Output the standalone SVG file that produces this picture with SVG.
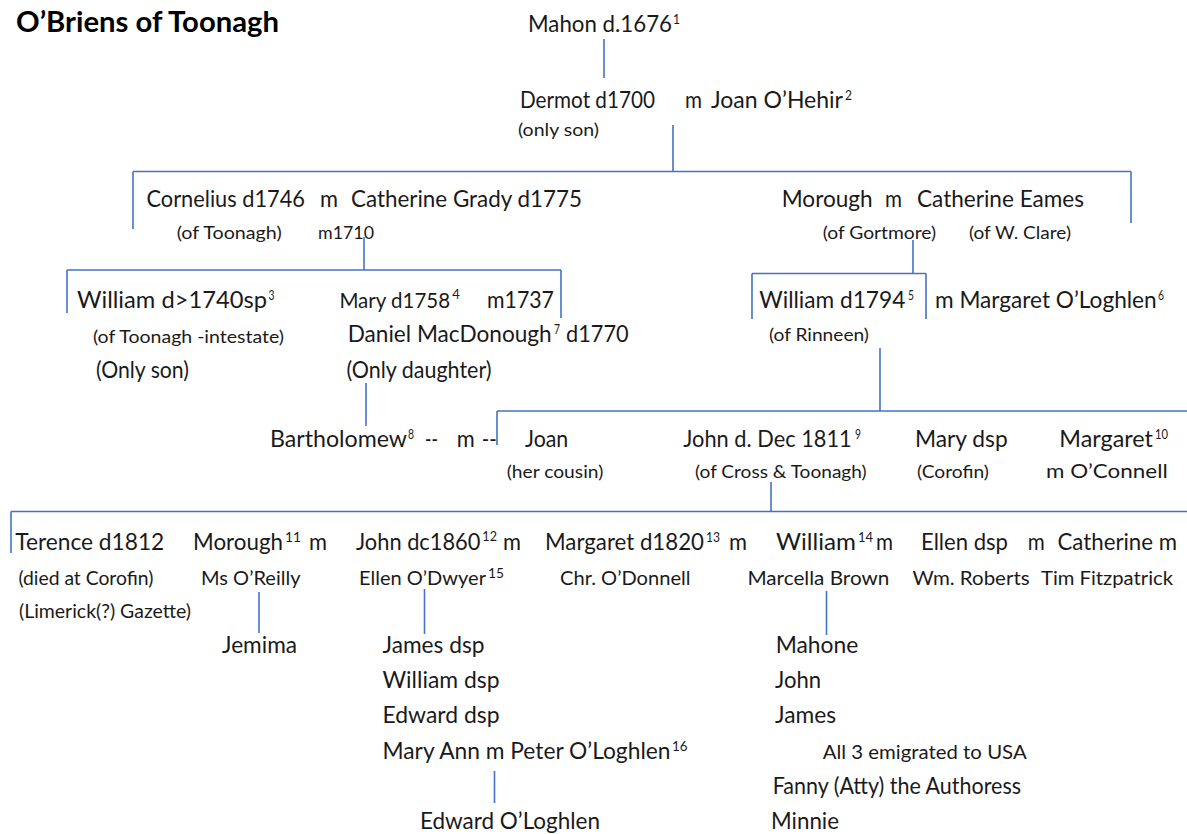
<svg xmlns="http://www.w3.org/2000/svg" width="1187" height="834" viewBox="0 0 1187 834">
<style>
text{font-family:Lato,"Open Sans","Liberation Sans",sans-serif;fill:#1a1a1a}
.t{font-size:28px;font-weight:bold;fill:#000}
.n{font-size:22.5px}
.s{font-size:16.5px}
.m{font-size:18.5px}
.e{font-size:19.5px}
.p{font-size:13px}
#connectors line{stroke:#4472C4;stroke-width:1.6;fill:none}
</style>
<rect width="1187" height="834" fill="#fff"/>
<g id="connectors">
<line x1="604" y1="39" x2="604" y2="78"/>
<line x1="673" y1="125" x2="673" y2="171.5"/>
<line x1="133" y1="171.5" x2="1131" y2="171.5"/>
<line x1="133" y1="171.5" x2="133" y2="229"/>
<line x1="1131" y1="171.5" x2="1131" y2="223"/>
<line x1="364" y1="237" x2="364" y2="270"/>
<line x1="67" y1="270" x2="561" y2="270"/>
<line x1="67" y1="270" x2="67" y2="313"/>
<line x1="561" y1="270" x2="561" y2="318"/>
<line x1="913" y1="240" x2="913" y2="273.5"/>
<line x1="752" y1="273.5" x2="926" y2="273.5"/>
<line x1="752" y1="273.5" x2="752" y2="319"/>
<line x1="926" y1="273.5" x2="926" y2="319"/>
<line x1="366" y1="383" x2="366" y2="426"/>
<line x1="880" y1="348" x2="880" y2="411"/>
<line x1="497" y1="411" x2="1187" y2="411"/>
<line x1="497" y1="411" x2="497" y2="445"/>
<line x1="771" y1="482" x2="771" y2="511.5"/>
<line x1="11" y1="511.5" x2="1187" y2="511.5"/>
<line x1="11" y1="511.5" x2="11" y2="553"/>
<line x1="259" y1="592" x2="259" y2="633"/>
<line x1="424.5" y1="589" x2="424.5" y2="634"/>
<line x1="826.5" y1="591" x2="826.5" y2="635"/>
<line x1="494.5" y1="771" x2="494.5" y2="803"/>
</g>
<g id="title"><text class="t" x="16" y="32" textLength="263" lengthAdjust="spacingAndGlyphs">O’Briens of Toonagh</text></g>
<g id="mahon">
<text class="n" x="528" y="32" textLength="144" lengthAdjust="spacingAndGlyphs">Mahon d.1676</text>
<text class="p" x="673" y="24" textLength="7" lengthAdjust="spacingAndGlyphs">1</text>
</g>
<g id="dermot">
<text class="n" x="520" y="108" textLength="135" lengthAdjust="spacingAndGlyphs">Dermot d1700</text>
<text class="s" x="518" y="136" textLength="81" lengthAdjust="spacingAndGlyphs">(only son)</text>
</g>
<g id="joan-ohehir">
<text class="n" x="685" y="108" textLength="17" lengthAdjust="spacingAndGlyphs">m</text>
<text class="n" x="711" y="108" textLength="132" lengthAdjust="spacingAndGlyphs">Joan O’Hehir</text>
<text class="p" x="845" y="100" textLength="7" lengthAdjust="spacingAndGlyphs">2</text>
</g>
<g id="cornelius">
<text class="n" x="146.5" y="207" textLength="158.5" lengthAdjust="spacingAndGlyphs">Cornelius d1746</text>
<text class="n" x="320" y="207" textLength="18" lengthAdjust="spacingAndGlyphs">m</text>
<text class="n" x="351" y="207" textLength="231" lengthAdjust="spacingAndGlyphs">Catherine Grady d1775</text>
<text class="s" x="176.7" y="239" textLength="105" lengthAdjust="spacingAndGlyphs">(of Toonagh)</text>
<text class="s" x="318" y="239" textLength="56" lengthAdjust="spacingAndGlyphs">m1710</text>
</g>
<g id="morough">
<text class="n" x="781.7" y="207" textLength="91" lengthAdjust="spacingAndGlyphs">Morough</text>
<text class="n" x="885" y="207" textLength="17" lengthAdjust="spacingAndGlyphs">m</text>
<text class="n" x="917" y="207" textLength="167" lengthAdjust="spacingAndGlyphs">Catherine Eames</text>
<text class="s" x="822.7" y="239" textLength="113.5" lengthAdjust="spacingAndGlyphs">(of Gortmore)</text>
<text class="s" x="969" y="239" textLength="102" lengthAdjust="spacingAndGlyphs">(of W. Clare)</text>
</g>
<g id="william-1740">
<text class="n" x="77" y="308" textLength="190" lengthAdjust="spacingAndGlyphs">William d&gt;1740sp</text>
<text class="p" x="268.5" y="300" textLength="6" lengthAdjust="spacingAndGlyphs">3</text>
<text class="s" x="93" y="343" textLength="191" lengthAdjust="spacingAndGlyphs">(of Toonagh -intestate)</text>
<text class="n" x="96" y="378" textLength="93" lengthAdjust="spacingAndGlyphs">(Only son)</text>
</g>
<g id="mary-1758">
<text x="339.4" y="308" font-size="20.5">Mary d1758<tspan class="p" dx="2" dy="-9">4</tspan></text>
<text class="n" x="487" y="308" textLength="67" lengthAdjust="spacingAndGlyphs">m1737</text>
<text class="n" x="347.7" y="342" textLength="204" lengthAdjust="spacingAndGlyphs">Daniel MacDonough</text>
<text class="p" x="554" y="334" textLength="6" lengthAdjust="spacingAndGlyphs">7</text>
<text class="n" x="566" y="342" textLength="62.6" lengthAdjust="spacingAndGlyphs">d1770</text>
<text class="n" x="346.5" y="378" textLength="145" lengthAdjust="spacingAndGlyphs">(Only daughter)</text>
</g>
<g id="william-1794">
<text class="n" x="759.3" y="308" textLength="146" lengthAdjust="spacingAndGlyphs">William  d1794</text>
<text class="p" x="908" y="300" textLength="6" lengthAdjust="spacingAndGlyphs">5</text>
<text class="s" x="769" y="341" textLength="100" lengthAdjust="spacingAndGlyphs">(of Rinneen)</text>
</g>
<g id="margaret-ologhlen">
<text class="n" x="935" y="308" textLength="221.7" lengthAdjust="spacingAndGlyphs">m Margaret O’Loghlen</text>
<text class="p" x="1158" y="300" textLength="6" lengthAdjust="spacingAndGlyphs">6</text>
</g>
<g id="bartholomew">
<text class="n" x="270" y="447" textLength="137" lengthAdjust="spacingAndGlyphs">Bartholomew</text>
<text class="p" x="408" y="439" textLength="6" lengthAdjust="spacingAndGlyphs">8</text>
<text class="n" x="425" y="447" textLength="13" lengthAdjust="spacingAndGlyphs">--</text>
<text class="n" x="456.7" y="447" textLength="18" lengthAdjust="spacingAndGlyphs">m</text>
<text class="n" x="481.7" y="447" textLength="15" lengthAdjust="spacingAndGlyphs">--</text>
</g>
<g id="joan">
<text class="n" x="525" y="447" textLength="43.3" lengthAdjust="spacingAndGlyphs">Joan</text>
<text class="s" x="506.7" y="478" textLength="96.6" lengthAdjust="spacingAndGlyphs">(her cousin)</text>
</g>
<g id="john-1811">
<text class="n" x="683.3" y="447" textLength="168.4" lengthAdjust="spacingAndGlyphs">John d. Dec 1811</text>
<text class="p" x="855" y="439" textLength="6" lengthAdjust="spacingAndGlyphs">9</text>
<text class="s" x="695" y="478" textLength="171.7" lengthAdjust="spacingAndGlyphs">(of Cross &amp; Toonagh)</text>
</g>
<g id="mary-dsp">
<text class="n" x="915" y="447" textLength="92.7" lengthAdjust="spacingAndGlyphs">Mary dsp</text>
<text class="s" x="917" y="478" textLength="72" lengthAdjust="spacingAndGlyphs">(Corofin)</text>
</g>
<g id="margaret-oconnell">
<text class="n" x="1059.3" y="447" textLength="93.7" lengthAdjust="spacingAndGlyphs">Margaret</text>
<text class="p" x="1155" y="439" textLength="13" lengthAdjust="spacingAndGlyphs">10</text>
<text class="e" x="1046" y="478" textLength="121.7" lengthAdjust="spacingAndGlyphs">m O’Connell</text>
</g>
<g id="terence">
<text class="n" x="15.3" y="550" textLength="149" lengthAdjust="spacingAndGlyphs">Terence d1812</text>
<text class="m" x="18.4" y="585" textLength="135" lengthAdjust="spacingAndGlyphs">(died at Corofin)</text>
<text class="m" x="19" y="618" textLength="172" lengthAdjust="spacingAndGlyphs">(Limerick(?) Gazette)</text>
</g>
<g id="morough-2">
<text class="n" x="193" y="550" textLength="90" lengthAdjust="spacingAndGlyphs">Morough</text>
<text class="p" x="285" y="542" textLength="16" lengthAdjust="spacingAndGlyphs">11</text>
<text class="n" x="309" y="550" textLength="18" lengthAdjust="spacingAndGlyphs">m</text>
<text class="m" x="201" y="585" textLength="99.5" lengthAdjust="spacingAndGlyphs">Ms O’Reilly</text>
</g>
<g id="jemima"><text class="n" x="222" y="653" textLength="75" lengthAdjust="spacingAndGlyphs">Jemima</text></g>
<g id="john-1860">
<text class="n" x="356" y="550" textLength="141" lengthAdjust="spacingAndGlyphs">John dc1860<tspan class="p" dx="2" dy="-9">12</tspan></text>
<text class="n" x="503" y="550" textLength="18" lengthAdjust="spacingAndGlyphs">m</text>
<text class="m" x="359" y="585" textLength="127" lengthAdjust="spacingAndGlyphs">Ellen O’Dwyer</text>
<text class="p" x="488" y="578" textLength="16" lengthAdjust="spacingAndGlyphs">15</text>
</g>
<g id="john-1860-children">
<text class="n" x="382.5" y="653" textLength="102" lengthAdjust="spacingAndGlyphs">James dsp</text>
<text class="n" x="382.5" y="688" textLength="117" lengthAdjust="spacingAndGlyphs">William dsp</text>
<text class="n" x="382.5" y="723" textLength="117" lengthAdjust="spacingAndGlyphs">Edward dsp</text>
<text class="n" x="382.5" y="758.5" textLength="288" lengthAdjust="spacingAndGlyphs">Mary Ann m Peter O’Loghlen</text>
<text class="p" x="672" y="751" textLength="15.5" lengthAdjust="spacingAndGlyphs">16</text>
</g>
<g id="edward-ologhlen"><text class="n" x="420" y="829" textLength="180" lengthAdjust="spacingAndGlyphs">Edward O’Loghlen</text></g>
<g id="margaret-1820">
<text class="n" x="545" y="550" textLength="159" lengthAdjust="spacingAndGlyphs">Margaret d1820</text>
<text class="p" x="706" y="542" textLength="14" lengthAdjust="spacingAndGlyphs">13</text>
<text class="n" x="729" y="550" textLength="18" lengthAdjust="spacingAndGlyphs">m</text>
<text class="m" x="560" y="585" textLength="130.5" lengthAdjust="spacingAndGlyphs">Chr. O’Donnell</text>
</g>
<g id="william-14">
<text class="n" x="776" y="550" textLength="80" lengthAdjust="spacingAndGlyphs">William</text>
<text class="p" x="858" y="542" textLength="15" lengthAdjust="spacingAndGlyphs">14</text>
<text class="n" x="876" y="550" textLength="17" lengthAdjust="spacingAndGlyphs">m</text>
<text class="m" x="747.4" y="585" textLength="142" lengthAdjust="spacingAndGlyphs">Marcella Brown</text>
</g>
<g id="ellen-dsp">
<text class="n" x="921" y="550" textLength="87" lengthAdjust="spacingAndGlyphs">Ellen dsp</text>
<text class="n" x="1027.7" y="550" textLength="17" lengthAdjust="spacingAndGlyphs">m</text>
<text class="m" x="912.6" y="585" textLength="117" lengthAdjust="spacingAndGlyphs">Wm. Roberts</text>
</g>
<g id="catherine">
<text class="n" x="1057.5" y="550" textLength="119.5" lengthAdjust="spacingAndGlyphs">Catherine m</text>
<text class="m" x="1041" y="585" textLength="132" lengthAdjust="spacingAndGlyphs">Tim Fitzpatrick</text>
</g>
<g id="william-14-children">
<text class="n" x="775.7" y="653" textLength="82.6" lengthAdjust="spacingAndGlyphs">Mahone</text>
<text class="n" x="775" y="688" textLength="46" lengthAdjust="spacingAndGlyphs">John</text>
<text class="n" x="775" y="723" textLength="61" lengthAdjust="spacingAndGlyphs">James</text>
<text class="e" x="822.7" y="759" textLength="204" lengthAdjust="spacingAndGlyphs">All 3 emigrated to USA</text>
<text class="n" x="772.7" y="794" textLength="248.3" lengthAdjust="spacingAndGlyphs">Fanny (Atty) the Authoress</text>
<text class="n" x="771" y="829" textLength="68" lengthAdjust="spacingAndGlyphs">Minnie</text>
</g>
</svg>
